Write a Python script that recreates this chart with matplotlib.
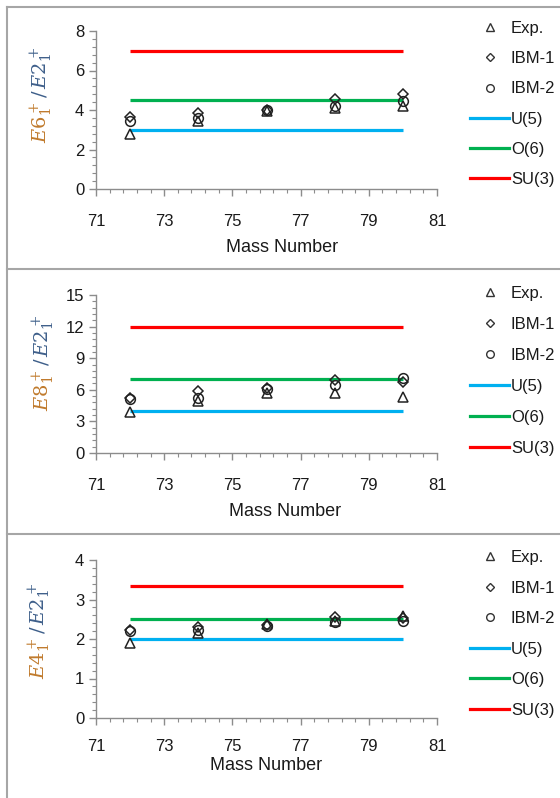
import matplotlib
matplotlib.use("Agg")
import matplotlib.pyplot as plt
from matplotlib.lines import Line2D
from matplotlib.ticker import MultipleLocator, FixedLocator

plt.rcParams['font.family'] = ['Liberation Sans', 'DejaVu Sans']
plt.rcParams['mathtext.fontset'] = 'dejavuserif'

# Mass numbers of the isotopes
mass = [72, 74, 76, 78, 80]
x_ticks = [71, 73, 75, 77, 79, 81]

# E6/E2 ratios
e6_exp = [2.8, 3.45, 3.95, 4.1, 4.2]
e6_ibm1 = [3.65, 3.85, 4.0, 4.55, 4.8]
e6_ibm2 = [3.45, 3.6, 4.0, 4.2, 4.45]

# E8/E2 ratios
e8_exp = [3.85, 4.95, 5.65, 5.65, 5.35]
e8_ibm1 = [5.25, 5.85, 6.15, 6.9, 6.7]
e8_ibm2 = [5.1, 5.25, 6.05, 6.5, 7.15]

# E4/E2 ratios
e4_exp = [1.9, 2.14, 2.38, 2.46, 2.58]
e4_ibm1 = [2.22, 2.31, 2.35, 2.55, 2.52]
e4_ibm2 = [2.21, 2.23, 2.34, 2.42, 2.45]

# Dynamical-symmetry limits: U(5), O(6), SU(3)
limits_e6 = [3.0, 4.5, 7.0]
limits_e8 = [4.0, 7.0, 12.0]
limits_e4 = [2.0, 2.5, 3.33]

limit_names = ['U(5)', 'O(6)', 'SU(3)']
limit_colors = ['#00b0f0', '#00b050', '#ff0000']
series_names = ['Exp.', 'IBM-1', 'IBM-2']
series_markers = ['^', 'D', 'o']

W, H = 560, 798
fig = plt.figure(figsize=(W / 100, H / 100), dpi=100)


def fx(px):
    return px / W


def fy(py):
    return 1 - py / H


panels = [
    dict(top=31, bottom=189, exp=e6_exp, ibm1=e6_ibm1, ibm2=e6_ibm2, lim=limits_e6,
         ymax=8, major=2, minor=0.4, num='6', lab_x=42, lab_y=101,
         xl_x=0.545, xl_y=248, leg_top=21, leg_sp=30.2, xpad=13),
    dict(top=295, bottom=453, exp=e8_exp, ibm1=e8_ibm1, ibm2=e8_ibm2, lim=limits_e8,
         ymax=15, major=3, minor=0.6, num='8', lab_x=44, lab_y=369,
         xl_x=0.555, xl_y=511, leg_top=286, leg_sp=31, xpad=13),
    dict(top=560, bottom=718, exp=e4_exp, ibm1=e4_ibm1, ibm2=e4_ibm2, lim=limits_e4,
         ymax=4, major=1, minor=0.2, num='4', lab_x=40, lab_y=637,
         xl_x=0.5, xl_y=765, leg_top=550, leg_sp=30.6, xpad=10),
]

minor_x = [71 + 0.4 * k for k in range(26)]

for p in panels:
    ax = fig.add_axes([fx(96), fy(p['bottom']), fx(437) - fx(96),
                       fy(p['top']) - fy(p['bottom'])])
    ax.set_xlim(71, 81)
    ax.set_ylim(0, p['ymax'])
    for sp in ['top', 'right']:
        ax.spines[sp].set_visible(False)
    for sp in ['left', 'bottom']:
        ax.spines[sp].set_color('#8c8c8c')
        ax.spines[sp].set_linewidth(1.0)
    ax.xaxis.set_major_locator(FixedLocator(x_ticks))
    ax.xaxis.set_minor_locator(FixedLocator(minor_x))
    ax.yaxis.set_major_locator(MultipleLocator(p['major']))
    ax.yaxis.set_minor_locator(MultipleLocator(p['minor']))
    ax.tick_params(which='both', direction='out', color='#8c8c8c', labelsize=12,
                   labelcolor='#1a1a1a')
    ax.tick_params(which='major', length=5, width=1)
    ax.tick_params(which='minor', length=3, width=0.8)
    ax.tick_params(axis='x', which='major', pad=p['xpad'])

    handles = []
    for val, name, col in zip(p['lim'], limit_names, limit_colors):
        ax.plot([mass[0], mass[-1]], [val, val], color=col, lw=2.3,
                solid_capstyle='butt', zorder=2)
        handles.append(Line2D([], [], color=col, lw=2.3, label=name))

    mhandles = []
    for vals, name, mk in zip([p['exp'], p['ibm1'], p['ibm2']], series_names,
                              series_markers):
        ms = 5.5 if mk == 'D' else 7
        ax.plot(mass, vals, linestyle='none', marker=mk, markersize=ms,
                markerfacecolor='none', markeredgecolor='#222222',
                markeredgewidth=1.1, zorder=3)
        mhandles.append(Line2D([], [], linestyle='none', marker=mk,
                               markersize=5.5 if mk != 'D' else 4.5,
                               markerfacecolor='none', markeredgecolor='#333333',
                               markeredgewidth=1.0, label=name))

    leg = ax.legend(handles=mhandles + handles, loc='upper left',
                    bbox_to_anchor=(fx(470), fy(p['leg_top'])),
                    bbox_transform=fig.transFigure, frameon=False,
                    fontsize=12, handlelength=2.35, handletextpad=0.1,
                    labelspacing=(p['leg_sp'] - 15) / 16.7, borderpad=0,
                    borderaxespad=0)
    for t in leg.get_texts():
        t.set_color('#1a1a1a')

    ax.set_xlabel('Mass Number', fontsize=13, color='#1a1a1a')
    ax.xaxis.label.set_verticalalignment('center')
    ax.xaxis.set_label_coords(fx(96 + p['xl_x'] * 341), fy(p['xl_y']),
                              transform=fig.transFigure)

    # Two-coloured rotated y label: numerator below, denominator above
    lx, ly = fx(p['lab_x']), fy(p['lab_y'])
    fig.text(lx, ly, r'$E%s_1^+$' % p['num'], rotation=90, rotation_mode='anchor',
             ha='right', va='center', fontsize=14, color='#c07a2c')
    fig.text(lx, ly, r'$\,/\,E2_1^+$', rotation=90, rotation_mode='anchor',
             ha='left', va='center', fontsize=14, color='#3e5f8a')

# Panel frames
frame_col = '#a6a6a6'
for y0 in [7, 269, 534]:
    fig.add_artist(Line2D([fx(7), fx(560)], [fy(y0), fy(y0)], color=frame_col,
                          lw=1.5, transform=fig.transFigure))
fig.add_artist(Line2D([fx(7), fx(7)], [fy(7), fy(798)], color=frame_col, lw=1.5,
                      transform=fig.transFigure))

fig.savefig('out.png', dpi=100)
